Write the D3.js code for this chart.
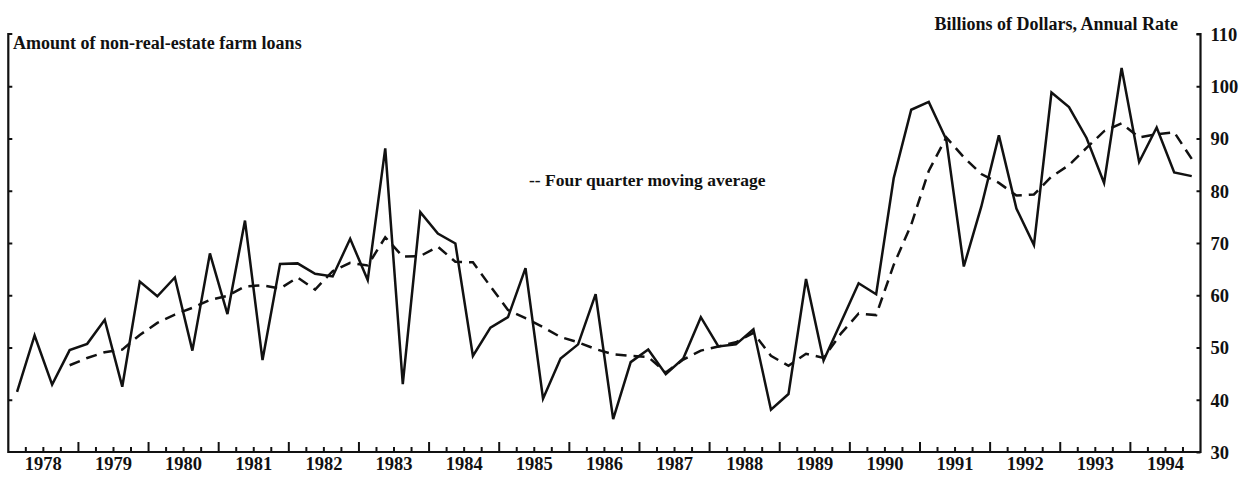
<!DOCTYPE html>
<html>
<head>
<meta charset="utf-8">
<script src="https://cdn.jsdelivr.net/npm/d3@7"></script>
<style>
  body { margin: 0; background: #fff; }
  text { font-family: "Liberation Serif", "Times New Roman", serif; font-weight: bold; fill: #111; }
</style>
</head>
<body>
<div id="chart"></div>
<script>
//////////////////////////////////////////////
// data //////////////////////////////////////
//////////////////////////////////////////////

// year labels on the x axis (each quarter is one point, 1978Q1 - 1994Q4)
var years = [1978, 1979, 1980, 1981, 1982, 1983, 1984, 1985, 1986,
             1987, 1988, 1989, 1990, 1991, 1992, 1993, 1994];

// amount of non-real-estate farm loans, billions of dollars, annual rate
var loans = [41.5, 52.3, 42.9, 49.5, 50.7, 55.3, 42.5, 62.6, 59.8, 63.4,
             49.4, 68.0, 56.4, 74.3, 47.6, 66.0, 66.1, 64.1, 63.6, 70.8,
             62.9, 88.1, 43.0, 75.9, 71.8, 69.9, 48.4, 53.8, 55.8, 65.2,
             40.2, 47.9, 50.6, 60.2, 36.3, 47.2, 49.6, 44.9, 47.9, 55.8,
             50.2, 50.6, 53.5, 38.1, 41.1, 63.1, 47.5, 54.9, 62.3, 60.2,
             82.4, 95.5, 97.0, 89.8, 65.5, 77.0, 90.6, 76.6, 69.6, 98.8,
             96.0, 90.1, 81.5, 103.5, 85.5, 92.1, 83.5, 82.8];

// four quarter moving average (starts with the 4th quarter)
var movingAvg = [null, null, null,
             46.6, 48.0, 49.1, 49.6, 52.4, 54.7, 56.3, 57.6, 59.1, 59.9,
             61.7, 61.9, 61.3, 63.4, 61.1, 64.6, 66.2, 65.7, 71.1, 67.4,
             67.5, 69.3, 66.4, 66.3, 61.7, 57.2, 55.6, 53.9, 52.0, 51.0,
             49.7, 48.7, 48.4, 48.2, 45.2, 47.7, 49.4, 50.2, 51.0, 52.8,
             48.4, 46.5, 48.8, 48.0, 52.7, 56.5, 56.2, 65.8, 73.5, 83.8,
             90.2, 86.4, 83.2, 81.5, 79.1, 79.3, 82.7, 84.9, 88.2, 91.4,
             92.9, 90.2, 90.8, 91.2, 86.1];

// right axis tick values
var yTicks = [30, 40, 50, 60, 70, 80, 90, 100, 110];

//////////////////////////////////////////////
// Chart Config /////////////////////////////
//////////////////////////////////////////////

var width = 1255, height = 487;
var margin = {top: 34, right: 54.5, bottom: 35, left: 8.3}; // plot box

var svg = d3.select("#chart").append("svg")
    .attr("width", width)
    .attr("height", height);

// x is in years (quarter points sit in the middle of each quarter)
var firstYear = years[0], lastYear = years[years.length - 1] + 1;
var xScale = d3.scaleLinear()
    .domain([firstYear, lastYear])
    .range([margin.left, width - margin.right]);

var yScale = d3.scaleLinear()
    .domain([30, 110])
    .range([height - margin.bottom, margin.top]);

function quarterPos(i) { return firstYear + i / 4 + 0.125; }

var x0 = xScale.range()[0], x1 = xScale.range()[1];
var yBottom = yScale(30), yTop = yScale(110);

// axes frame
var frame = svg.append("g").attr("class", "frame")
    .style("stroke", "#111").style("fill", "none");

frame.append("path")
    .attr("d", "M" + (x0 + 4) + "," + yTop + "H" + x0 + "V" + yBottom + "H" + x1 + "V" + yTop + "H" + (x1 - 4))
    .style("stroke-width", 2.2);

// left axis ticks (no labels)
var yAxisLeft = d3.axisRight(yScale).tickValues(yTicks.slice(1, -1)).tickSize(4).tickFormat("");
var yAxisLeftEl = svg.append("g")
    .attr("class", "y axis left")
    .attr("transform", "translate(" + x0 + ",0)")
    .call(yAxisLeft);

// right axis with labels
var yAxisRight = d3.axisLeft(yScale).tickValues(yTicks).tickSize(4).tickPadding(0);
var yAxisRightEl = svg.append("g")
    .attr("class", "y axis right")
    .attr("transform", "translate(" + x1 + ",0)")
    .call(yAxisRight);

yAxisRightEl.selectAll("text")
    .attr("x", 10)
    .attr("dy", "0.35em")
    .style("text-anchor", "start")
    .style("font-size", "18.5px");

// x axis: major ticks at year starts, minor ticks at quarters
var quarterTicks = [];
for (var q = 1; q < (lastYear - firstYear) * 4; q++) {
  quarterTicks.push(firstYear + q / 4);
}
var xAxisEl = svg.append("g")
    .attr("class", "x axis")
    .attr("transform", "translate(0," + yBottom + ")");

xAxisEl.selectAll("line.tick")
    .data(quarterTicks)
  .enter().append("line")
    .attr("class", "tick")
    .attr("x1", function(d) { return xScale(d); })
    .attr("x2", function(d) { return xScale(d); })
    .attr("y1", 0)
    .attr("y2", function(d, i) { return (i + 1) % 4 == 0 ? -10 : -5; })
    .style("stroke", "#111")
    .style("stroke-width", 2);

xAxisEl.selectAll("text.year")
    .data(years)
  .enter().append("text")
    .attr("class", "year")
    .attr("x", function(d) { return xScale(d + 0.5); })
    .attr("y", 18)
    .attr("text-anchor", "middle")
    .style("font-size", "18.5px")
    .text(function(d) { return d; });

svg.selectAll(".y.axis .domain").remove();
svg.selectAll(".y.axis line").style("stroke", "#111").style("stroke-width", 2);

// lines
var line = d3.line()
    .defined(function(d) { return d != null; })
    .x(function(d, i) { return xScale(quarterPos(i)); })
    .y(function(d) { return yScale(d); });

svg.append("path").datum(loans)
    .attr("class", "trace")
    .attr("d", line)
    .style("fill", "none")
    .style("stroke", "#111")
    .style("stroke-width", 2.5)
    .style("stroke-linejoin", "miter");

svg.append("path").datum(movingAvg)
    .attr("class", "avg")
    .attr("d", line)
    .style("fill", "none")
    .style("stroke", "#111")
    .style("stroke-width", 2.5)
    .style("stroke-dasharray", "11,7");

// texts
svg.append("text")
    .attr("x", 13)
    .attr("y", 49)
    .style("font-size", "18px")
    .text("Amount of non-real-estate farm loans");

svg.append("text")
    .attr("x", 1178)
    .attr("y", 30)
    .attr("text-anchor", "end")
    .style("font-size", "18px")
    .text("Billions of Dollars, Annual Rate");

svg.append("text")
    .attr("x", 529)
    .attr("y", 186)
    .style("font-size", "17.5px")
    .text("-- Four quarter moving average");
</script>
</body>
</html>
